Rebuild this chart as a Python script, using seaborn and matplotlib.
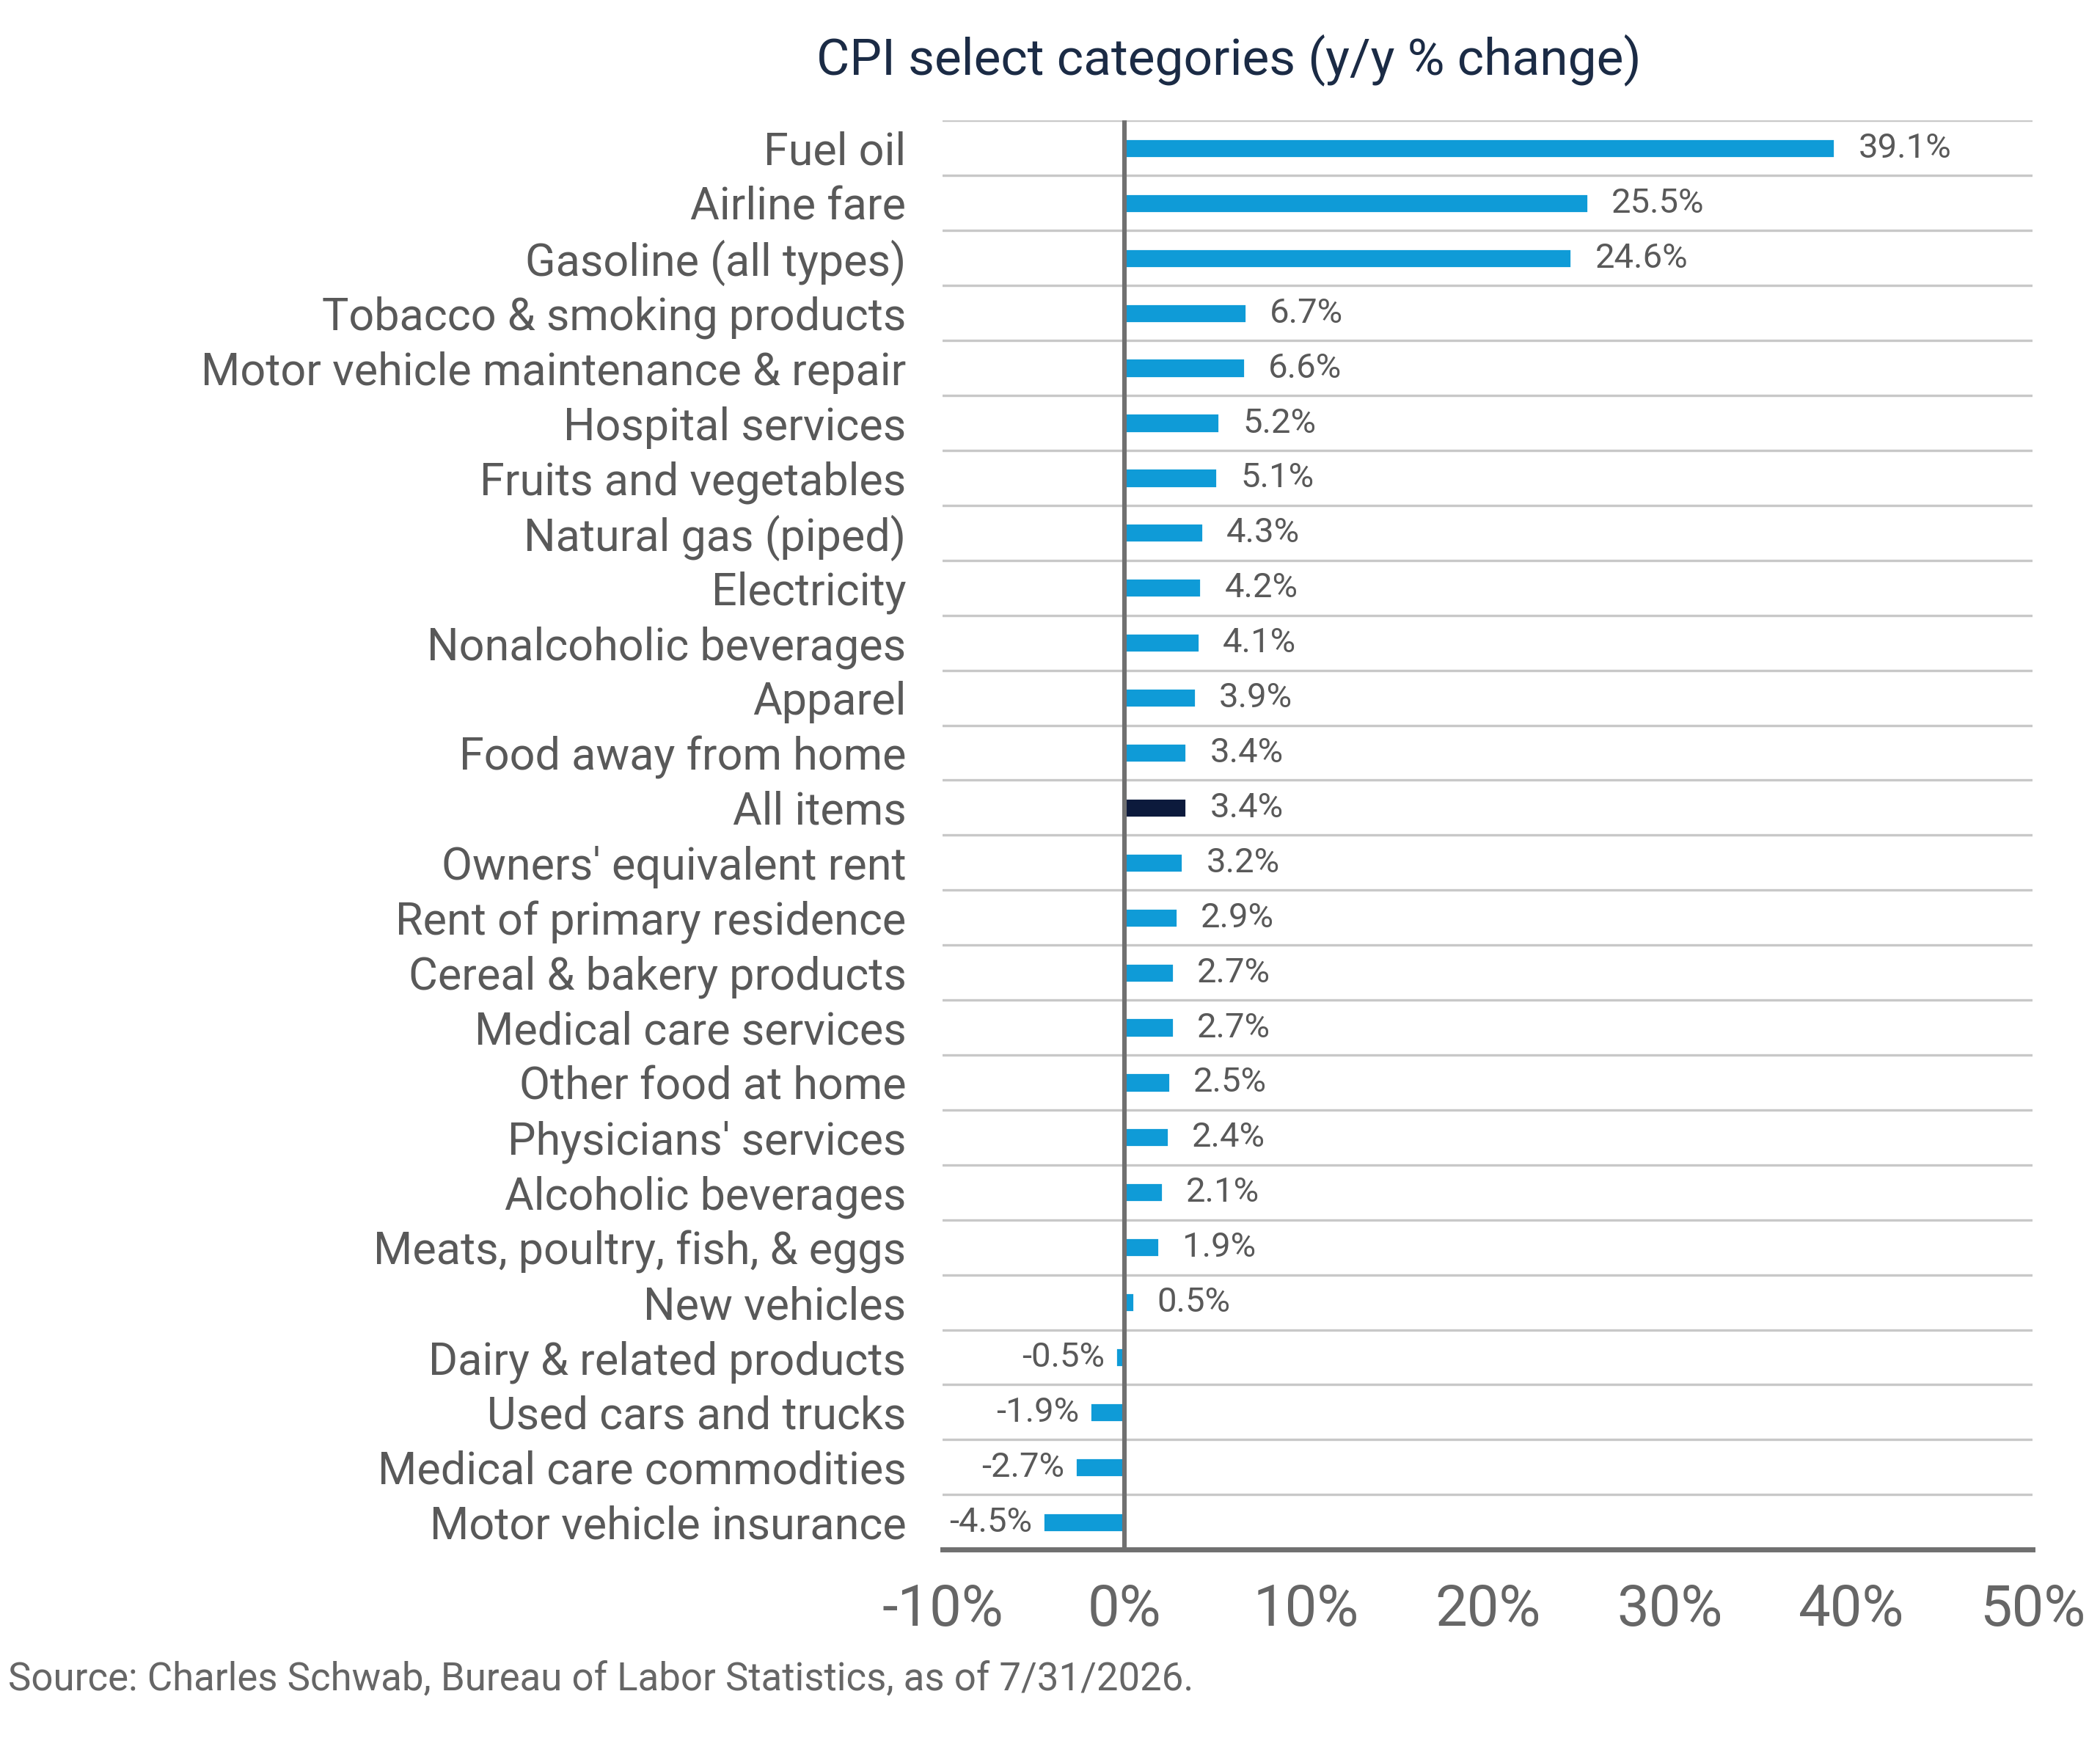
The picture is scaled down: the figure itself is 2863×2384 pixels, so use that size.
import matplotlib.pyplot as plt
import seaborn as sns
import pandas as pd

categories = ["Fuel oil", "Airline fare", "Gasoline (all types)", "Tobacco & smoking products",
              "Motor vehicle maintenance & repair", "Hospital services", "Fruits and vegetables",
              "Natural gas (piped)", "Electricity", "Nonalcoholic beverages", "Apparel",
              "Food away from home", "All items", "Owners' equivalent rent",
              "Rent of primary residence", "Cereal & bakery products", "Medical care services",
              "Other food at home", "Physicians' services", "Alcoholic beverages",
              "Meats, poultry, fish, & eggs", "New vehicles", "Dairy & related products",
              "Used cars and trucks", "Medical care commodities", "Motor vehicle insurance"]
values = [39.1, 25.5, 24.6, 6.7, 6.6, 5.2, 5.1, 4.3, 4.2, 4.1, 3.9, 3.4, 3.4, 3.2,
          2.9, 2.7, 2.7, 2.5, 2.4, 2.1, 1.9, 0.5, -0.5, -1.9, -2.7, -4.5]
highlight = "All items"

df = pd.DataFrame({"cat": categories, "val": values})
df["grp"] = ["hi" if c == highlight else "std" for c in categories]

sns.set_style("white")
plt.rcParams['font.family'] = ['Roboto', 'DejaVu Sans']

fig = plt.figure(figsize=(14.315, 11.92), dpi=200)
ax = fig.add_axes([0.449, 0.114, 0.519, 0.817])
sns.barplot(data=df, x="val", y="cat", hue="grp", dodge=False, legend=False,
            palette={"std": "#0f9bd7", "hi": "#0c1a3c"}, saturation=1,
            width=0.35, ax=ax, orient="h")

n = len(categories)
for b in range(n + 1):
    ax.axhline(b - 0.5, color="#c8c8c8", lw=1.2, zorder=0)
ax.axvline(0, color="#707070", lw=2.2, zorder=3)

for i, v in enumerate(values):
    if v >= 0:
        ax.text(v + 1.3, i, f"{v:.1f}%", va="center", ha="left", fontsize=17, color="#595959")
    else:
        ax.text(v - 0.6, i, f"{v:.1f}%", va="center", ha="right", fontsize=17, color="#595959")

ax.set_xlim(-10, 50)
ax.set_ylim(n - 0.5, -0.5)
ax.set_xticks(range(-10, 51, 10))
ax.set_xticklabels([f"{t}%" for t in range(-10, 51, 10)], fontsize=28, color="#666666")
ax.tick_params(axis="y", labelsize=22, labelcolor="#595959", length=0, pad=18)
ax.tick_params(axis="x", length=0, pad=16)
ax.set_xlabel("")
ax.set_ylabel("")
for s in ["top", "right", "left"]:
    ax.spines[s].set_visible(False)
ax.spines["bottom"].set_color("#707070")
ax.spines["bottom"].set_linewidth(2.5)

fig.text(0.585, 0.966, "CPI select categories (y/y % change)", ha="center", va="center",
         fontsize=25, color="#1b2b45")
fig.text(0.004, 0.04, "Source: Charles Schwab, Bureau of Labor Statistics, as of 7/31/2026.",
         ha="left", va="center", fontsize=19, color="#666666")

fig.savefig("out.png", dpi=200)
